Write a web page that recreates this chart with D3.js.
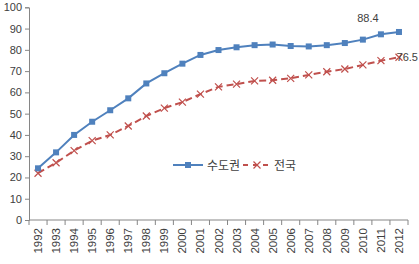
<!DOCTYPE html>
<html lang="ko">
<head>
    <meta charset="UTF-8">
    <title>수도권 / 전국</title>
    <script src="https://cdn.jsdelivr.net/npm/d3@7/dist/d3.min.js"></script>
    <style>
        body { margin: 0; background: #fff; }
        text { font-family: "Liberation Sans", Arial, sans-serif; fill: #404040; }
        .kr { font-family: "Noto Sans CJK KR", sans-serif; }
    </style>
</head>
<body>
<script>
    // data
    var years = ["1992","1993","1994","1995","1996","1997","1998","1999","2000","2001","2002",
                 "2003","2004","2005","2006","2007","2008","2009","2010","2011","2012"];
    var capital = [24.3, 31.8, 40.0, 46.2, 51.6, 57.2, 64.2, 69.0, 73.5, 77.6, 79.9,
                   81.2, 82.2, 82.5, 81.8, 81.6, 82.2, 83.2, 84.8, 87.3, 88.4];
    var nation  = [22.0, 26.9, 32.6, 37.3, 40.0, 44.2, 48.9, 52.6, 55.4, 59.2, 62.6,
                   63.9, 65.4, 65.7, 66.6, 68.2, 69.7, 71.0, 72.9, 74.9, 76.5];
    var yTicks = [0, 10, 20, 30, 40, 50, 60, 70, 80, 90, 100];
    var names = ["수도권", "전국"];

    var width = 419, height = 264;
    var blue = "#4F81BD", red = "#C0504D", axisColor = "#868686";

    var svg = d3.select("body").append("svg")
        .attr("width", width).attr("height", height);

    var x = d3.scaleBand().domain(years).range([29, 408]).padding(0);
    var y = d3.scaleLinear().domain([0, 100]).range([220, 7.3]);
    var cx = function(d){ return x(d) + x.bandwidth() / 2; };

    /* y axis */
    var yAxis = svg.append("g").attr("transform", "translate(29,0)")
        .call(d3.axisLeft(y).tickValues(yTicks).tickSize(4).tickPadding(3));
    yAxis.select(".domain").attr("stroke", axisColor);
    yAxis.selectAll(".tick line").attr("stroke", axisColor);
    yAxis.selectAll("text").attr("font-size", "11px").attr("fill", "#404040")
        .style("font-family", "'Liberation Sans', Arial, sans-serif");

    /* x axis */
    var xg = svg.append("g");
    xg.append("line").attr("x1", 29).attr("x2", 408).attr("y1", y(0)).attr("y2", y(0))
        .attr("stroke", axisColor);
    var edges = years.map(function(d){ return x(d); }).concat([x(years[years.length-1]) + x.bandwidth()]);
    xg.selectAll(".xtick").data(edges).enter().append("line")
        .attr("x1", function(d){ return d; }).attr("x2", function(d){ return d; })
        .attr("y1", y(0)).attr("y2", y(0) + 5)
        .attr("stroke", axisColor);
    xg.selectAll(".xlabel").data(years).enter().append("text")
        .attr("transform", function(d){ return "translate(" + (cx(d) + 4) + "," + (y(0) + 8) + ") rotate(-90)"; })
        .attr("text-anchor", "end")
        .attr("font-size", "11.5px")
        .text(function(d){ return d; });

    /* lines */
    var line = d3.line()
        .x(function(d, i){ return cx(years[i]); })
        .y(function(d){ return y(d); });

    svg.append("path").datum(nation).attr("d", line)
        .attr("fill", "none").attr("stroke", red).attr("stroke-width", 2)
        .attr("stroke-dasharray", "7,4");
    svg.append("path").datum(capital).attr("d", line)
        .attr("fill", "none").attr("stroke", blue).attr("stroke-width", 2);

    /* markers */
    function crossMarker(sel) {
        sel.append("path")
            .attr("d", "M-3.5,-3.5L3.5,3.5M-3.5,3.5L3.5,-3.5")
            .attr("stroke", red).attr("stroke-width", 1.2).attr("fill", "none");
    }
    svg.selectAll(".mn").data(nation).enter().append("g")
        .attr("transform", function(d, i){ return "translate(" + cx(years[i]) + "," + y(d) + ")"; })
        .call(crossMarker);
    svg.selectAll(".mc").data(capital).enter().append("rect")
        .attr("x", function(d, i){ return cx(years[i]) - 3; })
        .attr("y", function(d){ return y(d) - 3; })
        .attr("width", 6).attr("height", 6)
        .attr("fill", blue);

    /* value labels */
    var last = years.length - 1;
    svg.append("text").attr("x", cx(years[last]) - 31).attr("y", y(capital[last]) - 10)
        .attr("text-anchor", "middle").attr("font-size", "11px")
        .text(capital[last].toFixed(1));
    svg.append("text").attr("x", width - 1).attr("y", y(nation[last]) + 4)
        .attr("text-anchor", "end").attr("font-size", "11px")
        .text(nation[last].toFixed(1));

    /* legend */
    var lg = svg.append("g").attr("transform", "translate(173,165)");
    lg.append("line").attr("x1", 0).attr("x2", 30).attr("y1", 0).attr("y2", 0)
        .attr("stroke", blue).attr("stroke-width", 2);
    lg.append("rect").attr("x", 12).attr("y", -3).attr("width", 6).attr("height", 6).attr("fill", blue);
    lg.append("text").attr("class", "kr").attr("x", 34).attr("y", 5)
        .attr("font-size", "12px").text(names[0]);
    lg.append("line").attr("x1", 70).attr("x2", 98).attr("y1", 0).attr("y2", 0)
        .attr("stroke", red).attr("stroke-width", 2).attr("stroke-dasharray", "5,5");
    lg.append("g").attr("transform", "translate(84,0)").call(crossMarker);
    lg.append("text").attr("class", "kr").attr("x", 101).attr("y", 5)
        .attr("font-size", "12px").text(names[1]);
</script>
</body>
</html>
